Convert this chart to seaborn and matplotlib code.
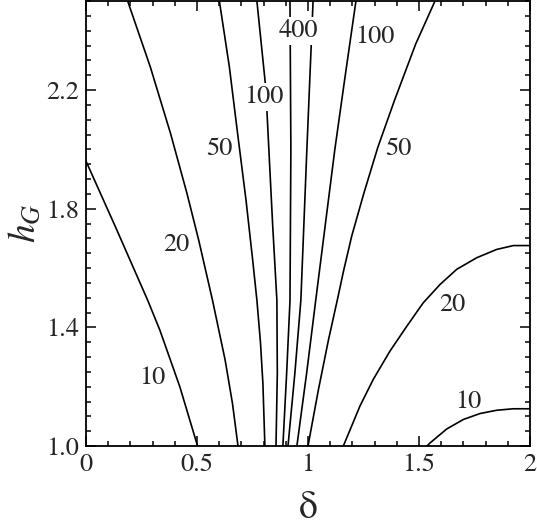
import numpy as np
import pandas as pd
import matplotlib.pyplot as plt
import seaborn as sns
from matplotlib.ticker import MultipleLocator

# Contour lines: each level has a left and a right branch
d_10_left = [0.0, 0.133, 0.278, 0.333, 0.423, 0.503]
h_10_left = [1.961, 1.739, 1.492, 1.391, 1.200, 1.0]

d_20_left = [0.188, 0.290, 0.381, 0.455, 0.508, 0.570, 0.627, 0.660, 0.685]
h_20_left = [2.5, 2.278, 2.054, 1.852, 1.694, 1.492, 1.290, 1.144, 1.0]

d_50_left = [0.601, 0.646, 0.683, 0.721, 0.751, 0.770, 0.786, 0.797, 0.806]
h_50_left = [2.5, 2.278, 2.054, 1.829, 1.627, 1.492, 1.350, 1.212, 1.0]

d_100_left = [0.770, 0.808, 0.815, 0.824, 0.841, 0.860, 0.862, 0.856]
h_100_left = [2.5, 2.222, 2.132, 1.998, 1.745, 1.492, 1.246, 1.0]

d_400_left = [0.919, 0.923, 0.919, 0.904, 0.887]
h_400_left = [2.5, 2.0, 1.49, 1.246, 1.0]

d_400_right = [1.023, 0.995, 0.968, 0.941, 0.910]
h_400_right = [2.5, 2.0, 1.492, 1.246, 1.0]

d_100_right = [1.216, 1.168, 1.121, 1.035, 0.994, 0.950]
h_100_right = [2.5, 2.25, 2.0, 1.492, 1.246, 1.0]

d_50_right = [1.572, 1.485, 1.390, 1.315, 1.252, 1.197, 1.161, 1.132,
              1.092, 1.047, 1.0]
h_50_right = [2.5, 2.355, 2.166, 2.008, 1.853, 1.708, 1.593, 1.492,
              1.357, 1.190, 1.0]

d_20_right = [2.0, 1.925, 1.850, 1.760, 1.670, 1.595, 1.519, 1.445, 1.369,
              1.294, 1.234, 1.159]
h_20_right = [1.676, 1.676, 1.663, 1.635, 1.596, 1.545, 1.483, 1.404, 1.320,
              1.225, 1.135, 1.0]

d_10_right = [2.0, 1.925, 1.850, 1.775, 1.700, 1.625, 1.550, 1.535]
h_10_right = [1.126, 1.126, 1.121, 1.110, 1.090, 1.058, 1.011, 1.0]

# contour labels (the 100 and 400 ones sit on top of their lines)
label_text = ["10", "20", "50", "100", "400", "100", "50", "20", "10"]
label_d = [0.300, 0.407, 0.602, 0.802, 0.959, 1.302, 1.405, 1.651, 1.722]
label_h = [1.231, 1.677, 2.000, 2.176, 2.399, 2.378, 2.001, 1.475, 1.149]
label_cut = [False, False, False, True, True, False, False, False, False]

curves = {
    "10L": (d_10_left, h_10_left), "20L": (d_20_left, h_20_left),
    "50L": (d_50_left, h_50_left), "100L": (d_100_left, h_100_left),
    "400L": (d_400_left, h_400_left), "400R": (d_400_right, h_400_right),
    "100R": (d_100_right, h_100_right), "50R": (d_50_right, h_50_right),
    "20R": (d_20_right, h_20_right), "10R": (d_10_right, h_10_right),
}
df = pd.concat([pd.DataFrame({"delta": d, "h": h, "curve": name})
                for name, (d, h) in curves.items()], ignore_index=True)

sns.set_style("ticks")
plt.rcParams["font.family"] = ["STIXGeneral", "DejaVu Serif"]
plt.rcParams["mathtext.fontset"] = "stix"

fig = plt.figure(figsize=(5.37, 5.28), dpi=100)
ax = fig.add_axes([0.160, 0.155, 0.827, 0.843])

sns.lineplot(data=df, x="delta", y="h", units="curve", estimator=None,
             sort=False, color="black", linewidth=1.2, ax=ax, legend=False)

for t, x, y, cut in zip(label_text, label_d, label_h, label_cut):
    box = dict(facecolor="white", edgecolor="none", pad=1.5) if cut else None
    ax.text(x, y, t, fontsize=19, ha="center", va="center", bbox=box)

ax.set_xlim(0, 2)
ax.set_ylim(1.0, 2.5)
ax.set_xticks([0, 0.5, 1, 1.5, 2])
ax.set_xticklabels(["0", "0.5", "1", "1.5", "2"])
ax.set_yticks([1.0, 1.4, 1.8, 2.2])
ax.set_yticklabels(["1.0", "1.4", "1.8", "2.2"])
ax.xaxis.set_minor_locator(MultipleLocator(0.1))
ax.yaxis.set_minor_locator(MultipleLocator(0.05))
ax.tick_params(which="both", direction="in", top=True, right=True,
               labelsize=19, width=1.1, color="black")
ax.tick_params(which="major", length=7, pad=5)
ax.tick_params(which="minor", length=3.5)
for s in ax.spines.values():
    s.set_linewidth(1.3)
    s.set_color("black")

ax.set_xlabel("δ", fontsize=27, labelpad=10)
ax.set_ylabel("$h_G$", fontsize=27, labelpad=2)

fig.savefig("out.png", dpi=100)
